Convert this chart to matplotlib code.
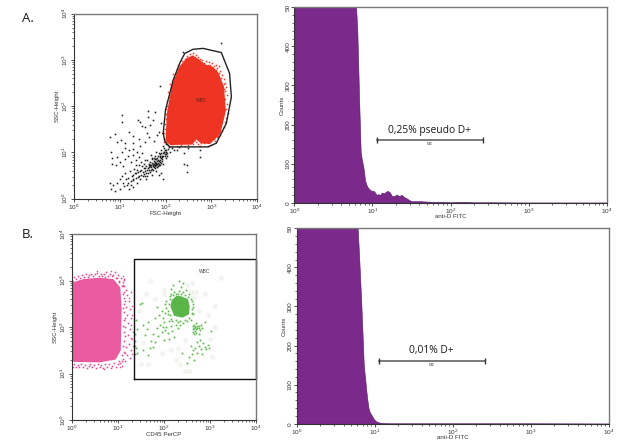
import numpy as np
import matplotlib
matplotlib.use("Agg")
import matplotlib.pyplot as plt
from matplotlib.ticker import LogLocator, NullFormatter, LogFormatterMathtext, MultipleLocator, FixedLocator, FixedFormatter

plt.rcParams['font.family'] = ['Liberation Sans', 'DejaVu Sans']
plt.rcParams['mathtext.default'] = 'regular'

W, H = 631, 442

# ---- all coordinates below are log10 of the channel value
wbc_gate = [(1.95,1.41),(2.0,1.92),(2.17,2.57),(2.32,2.95),(2.42,3.14),(2.6,3.23),(2.82,3.25),(3.22,3.16),
            (3.4,2.71),(3.44,2.2),(3.33,1.63),(3.11,1.2),(2.93,1.12),(2.09,1.12),(1.99,1.23)]
red_core = [(2.0,1.25),(2.03,1.85),(2.14,2.45),(2.3,2.85),(2.46,3.04),(2.6,3.1),(2.72,3.02),(2.88,2.9),
            (3.04,2.85),(3.16,2.72),(3.28,2.42),(3.32,1.9),(3.2,1.4),(2.97,1.18),(2.77,1.2),(2.68,1.28),(2.58,1.17),(2.1,1.16)]
red_speck = [(1.97,1.3),(1.96,1.42),(1.99,1.5),(1.98,1.62),(2.0,1.72),(2.01,1.83),(2.0,1.93),(2.04,2.0),(2.03,2.12),
 (2.07,2.2),(2.06,2.3),(2.11,2.38),(2.1,2.48),(2.14,2.55),(2.18,2.62),(2.16,2.7),(2.22,2.72),(2.25,2.8),(2.28,2.88),
 (2.33,2.9),(2.36,2.98),(2.42,3.03),(2.47,3.09),(2.53,3.12),(2.6,3.14),(2.66,3.1),(2.72,3.06),(2.76,3.02),(2.8,3.0),
 (2.78,2.92),(2.84,2.93),(2.88,2.98),(2.93,2.9),(2.95,2.96),(2.98,2.88),(3.02,2.93),(3.06,2.86),(3.1,2.9),(3.13,2.82),
 (3.17,2.86),(3.2,2.76),(3.16,2.72),(3.24,2.68),(3.22,2.6),(3.28,2.58),(3.3,2.5),(3.33,2.42),(3.3,2.32),(3.34,2.25),
 (3.31,2.15),(3.35,2.05),(3.33,1.95),(3.36,1.85),(3.32,1.75),(3.3,1.65),(3.27,1.55),(3.24,1.47),(3.2,1.38),(3.13,1.33),
 (3.08,1.25),(3.0,1.17),(2.92,1.15),(2.85,1.2),(2.78,1.2),(2.72,1.18),(2.7,1.27),(2.63,1.28),(2.6,1.18),(2.5,1.16),
 (2.42,1.14),(2.33,1.16),(2.25,1.14),(2.15,1.15),(2.05,1.17),(2.02,1.22),(1.97,1.22),(2.6,1.3),(2.66,1.22),(2.75,1.14),
 (3.1,2.78),(3.0,2.83),(2.86,2.87),(3.27,2.47),(3.28,2.38),(3.05,1.3),(3.15,1.36),(2.75,2.95),(2.82,2.88),(3.22,2.53)]
black_pts = [(0.79,1.34),(0.89,1.39),(1.06,1.81),(1.06,1.66),(1.40,1.70),(1.44,1.66),(1.62,1.90),(1.62,1.77),
 (1.77,1.88),(1.73,1.70),(1.66,1.59),(1.55,1.56),(1.48,1.57),(1.88,2.44),(3.22,3.37),(2.39,3.18),(1.91,1.63),
 (1.86,1.45),(1.02,1.27),(1.21,1.45),(1.29,1.35),(0.95,1.23),(1.11,1.2),(1.29,1.2),(0.8,1.0),(0.82,0.88),
 (0.95,0.9),(1.05,1.02),(1.12,1.1),(1.2,1.05),(1.3,1.08),(1.38,1.0),(1.45,1.13),(1.56,1.22),(1.65,1.33),
 (1.75,1.25),(1.82,1.38),(1.6,1.42),(1.42,1.3),(0.83,0.75),(0.92,0.72),(1.0,0.8),(1.08,0.7),(1.12,0.85),
 (1.18,0.92),(1.25,0.8),(1.3,0.95),(1.35,0.83),(1.42,0.9),(1.48,0.98),(0.78,0.33),(0.8,0.2),(0.85,0.3),
 (0.9,0.17),(0.95,0.33),(1.0,0.2),(1.0,0.42),(1.05,0.5),(1.08,0.35),(1.12,0.55),(1.15,0.3),(1.18,0.45),
 (1.2,0.22),(1.22,0.6),(1.25,0.38),(1.28,0.52),(1.3,0.25),(1.32,0.65),(1.35,0.45),(1.38,0.33),(1.4,0.58),
 (1.42,0.72),(1.45,0.42),(1.47,0.62),(1.5,0.5),(1.52,0.75),(1.55,0.6),(1.57,0.42),(1.58,0.7),(1.6,0.83),
 (1.62,0.55),(1.63,0.72),(1.65,0.62),(1.66,0.8),(1.68,0.68),(1.7,0.52),(1.7,0.88),(1.72,0.75),(1.73,0.63),
 (1.75,0.82),(1.76,0.7),(1.78,0.92),(1.79,0.6),(1.8,0.78),(1.82,0.88),(1.83,0.7),(1.85,0.98),(1.86,0.82),
 (1.88,0.72),(1.89,0.92),(1.9,1.05),(1.92,0.85),(1.94,0.98),(1.95,0.75),(1.96,1.1),(1.98,0.92),(2.0,1.02),
 (2.02,1.18),(2.04,0.98),(2.06,1.08),(2.1,1.02),(2.14,1.1),(2.18,1.05),(2.25,1.05),(2.3,1.12),(1.95,0.43),
 (1.9,0.55),(1.85,0.52),(1.55,0.48),(1.6,0.5),(1.64,0.68),(1.67,0.58),(1.69,0.73),(1.71,0.85),(1.74,0.68),
 (1.77,0.73),(1.78,0.85),(1.81,0.68),(1.84,0.78),(1.87,0.9),(1.91,0.78),(1.93,0.9),(1.97,1.0),(2.0,0.88),
 (1.66,0.72),(1.7,0.65),(1.72,0.7),(1.75,0.76),(1.79,0.76),(1.82,0.82),(1.86,0.76),(1.6,0.62),(1.56,0.66),
 (1.5,0.58),(1.46,0.52),(1.4,0.46),(1.35,0.55),(1.3,0.42),(1.26,0.48),(2.4,0.75),(2.48,0.72),(2.46,0.57),
 (2.75,0.9),(2.75,1.05),(2.5,1.1),(2.4,0.98),
 (1.62,0.66),(1.64,0.76),(1.67,0.7),(1.69,0.62),(1.71,0.78),(1.73,0.72),(1.74,0.88),(1.76,0.78),(1.77,0.66),(1.78,0.8),
 (1.8,0.86),(1.8,0.72),(1.82,0.76),(1.83,0.92),(1.84,0.84),(1.85,0.72),(1.87,0.84),(1.88,0.96),(1.89,0.8),(1.9,0.88),
 (1.91,0.98),(1.92,0.92),(1.93,0.82),(1.95,0.92),(1.96,1.02),(1.98,0.96),(1.99,1.06),(2.01,0.96),(2.02,1.06),(2.03,0.92),
 (1.58,0.56),(1.54,0.54),(1.52,0.66),(1.48,0.7),(1.44,0.6),(1.42,0.5),(1.38,0.62),(1.33,0.55),(1.28,0.4),(1.24,0.3),
 (1.18,0.35),(1.14,0.42),(1.1,0.28),(1.36,0.72),(1.46,0.8),(1.56,0.84),(1.68,0.94),(1.8,1.02),(1.94,1.14),(2.08,1.12)]

pink_core = [(0,1.25),(0.6,1.24),(0.95,1.3),(1.06,1.5),(1.08,2.4),(1.05,2.85),(0.9,3.03),(0.6,3.06),(0.25,3.03),(0,2.95)]
pink_speck = [(0.02,3.0),(0.05,3.07),(0.09,3.03),(0.13,3.1),(0.17,3.06),(0.21,3.12),(0.25,3.07),(0.3,3.13),(0.34,3.08),
 (0.38,3.11),(0.42,3.15),(0.46,3.09),(0.5,3.13),(0.54,3.17),(0.58,3.1),(0.62,3.15),(0.66,3.09),(0.7,3.13),(0.74,3.18),
 (0.78,3.1),(0.82,3.14),(0.86,3.09),(0.9,3.12),(0.94,3.19),(0.97,3.06),(1.0,3.11),(1.03,3.0),(1.06,3.05),(1.1,2.96),
 (1.13,3.03),(1.09,2.88),(1.14,2.88),(1.18,2.8),(1.12,2.76),(1.2,2.68),(1.14,2.62),(1.24,2.55),(1.12,2.5),(1.18,2.44),
 (1.26,2.38),(1.13,2.33),(1.2,2.26),(1.28,2.2),(1.12,2.14),(1.22,2.08),(1.16,2.0),(1.27,1.95),(1.12,1.9),(1.21,1.82),
 (1.29,1.76),(1.14,1.7),(1.24,1.64),(1.18,1.56),(1.28,1.5),(1.12,1.46),(1.2,1.4),(1.26,1.34),(1.1,1.32),(1.15,1.26),
 (1.05,1.22),(1.09,1.17),(1.0,1.2),(0.96,1.14),(0.92,1.22),(0.88,1.17),(0.84,1.12),(0.8,1.2),(0.76,1.15),(0.72,1.2),
 (0.68,1.11),(0.64,1.18),(0.6,1.14),(0.56,1.21),(0.52,1.12),(0.48,1.18),(0.44,1.14),(0.4,1.21),(0.36,1.16),(0.32,1.11),
 (0.28,1.19),(0.24,1.15),(0.2,1.21),(0.16,1.13),(0.12,1.19),(0.08,1.15),(0.04,1.21),(0.02,1.13),
 (1.1,2.7),(1.16,2.56),(1.1,2.4),(1.15,2.2),(1.1,2.02),(1.16,1.8),(1.1,1.6),(1.16,1.44),(1.08,1.26),(1.02,1.26),
 (1.08,1.4),(1.1,2.9),(1.02,2.97),(0.95,3.05),(0.15,3.0),(0.72,3.07)]
pink_loose = [(1.3,1.42),(1.32,1.6),(1.3,1.75),(1.33,1.9),(1.29,2.05),(1.31,2.25),(1.3,2.45),(1.24,2.62),(1.28,2.75),
              (1.12,3.02),(1.1,3.1),(0.85,3.2),(0.55,3.2),(1.05,1.14),(0.7,1.1)]

wbc_box = [(1.355,0.88),(4.0,0.88),(4.0,3.46),(1.355,3.46),(1.355,0.88)]
green_core = [(2.14,2.44),(2.17,2.58),(2.27,2.67),(2.38,2.66),(2.52,2.6),(2.56,2.44),(2.54,2.27),(2.4,2.2),(2.22,2.24)]
green_pts = [(2.12,2.6),(2.15,2.7),(2.2,2.68),(2.27,2.72),(2.32,2.78),(2.38,2.72),(2.45,2.68),(2.52,2.65),(2.58,2.6),
 (2.62,2.5),(2.6,2.38),(2.62,2.28),(2.55,2.2),(2.45,2.15),(2.35,2.13),(2.25,2.15),(2.15,2.18),(2.08,2.28),(2.05,2.4),
 (2.02,2.5),(1.95,2.35),(1.9,2.25),(1.85,2.42),(1.8,2.2),(2.1,2.12),(2.0,2.1),(1.92,2.05),(2.05,2.0),(2.15,2.03),
 (1.85,1.98),(1.95,1.9),(2.08,1.88),(2.18,1.92),(2.22,1.78),(2.1,1.75),(2.0,1.72),(1.88,1.8),(1.75,1.85),(1.65,2.1),
 (1.62,1.95),(1.72,1.7),(1.58,1.82),(1.55,2.05),(1.42,1.95),(1.4,2.15),(1.48,2.5),(1.52,2.52),(1.36,1.6),(1.4,1.55),
 (1.38,1.7),(1.36,1.85),(1.55,1.5),(1.75,1.56),(1.8,1.68),(1.66,1.4),(2.38,2.85),(2.42,2.95),(2.33,3.0),
 (2.62,2.02),(2.66,2.05),(2.7,2.08),(2.75,2.03),(2.8,2.05),(2.62,1.95),(2.68,1.92),(2.72,1.98),(2.78,1.94),(2.7,1.88),
 (2.75,1.85),(2.66,1.84),(2.82,1.98),(2.9,2.1),(3.03,1.92),
 (2.55,1.35),(2.6,1.42),(2.62,1.5),(2.68,1.55),(2.72,1.45),(2.75,1.6),(2.8,1.52),(2.85,1.65),(2.9,1.58),(2.95,1.62),
 (2.72,1.68),(2.82,1.42),(2.65,1.28),(2.5,1.22),(2.4,1.45),(2.92,1.52),(2.78,1.72),(2.58,1.6),(2.98,1.55),
 (2.2,2.9),(2.15,2.82),(2.48,2.8),(1.7,1.55),(1.42,1.45),(1.36,1.42),
 (2.1,2.5),(2.08,2.35),(2.12,2.25),(2.18,2.12),(2.3,2.1),(2.42,2.08),(2.5,2.12),(2.58,2.16),(2.6,2.3),(2.64,2.42),
 (2.6,2.55),(2.55,2.7),(2.42,2.76),(2.3,2.7),(2.22,2.76),(2.12,2.66),(2.05,2.55),(2.02,2.3),(1.98,2.2),(2.25,2.05),
 (2.35,2.05),(2.3,1.98),(2.02,1.93),(1.97,2.0),(2.66,1.98),(2.72,2.03),(2.64,1.9),(2.76,1.98),(2.7,1.95),(2.68,2.0)]
faint_pts = [(1.7,3.0),(3.23,3.06),(2.9,2.7),(3.1,2.45),(2.6,2.95),(2.7,2.75),(2.0,2.8),(1.8,2.6),(2.75,2.35),(2.95,2.25),
 (3.1,2.0),(2.25,1.3),(2.35,1.2),(2.15,1.5),(1.95,1.45),(1.5,1.2),(1.65,1.2),(2.45,1.05),(2.55,1.05),(3.05,1.35),
 (3.0,1.75),(2.45,1.72),(2.3,1.55),(1.6,2.7),(2.5,2.9),(2.6,2.75),(2.65,2.65),(2.0,2.72),(1.55,1.65),(1.45,2.35)]

# histogram: bin position (log10) and counts; counts reach past the 500 ceiling of the plot
hist_a_x = [0,0.78,0.79,0.807,0.83,0.85,0.865,0.884,0.895,0.905,0.925,0.948,0.97,0.99,1.01,1.03,1.054,1.08,1.1,1.118,1.15,1.18,
            1.2,1.225,1.247,1.28,1.31,1.34,1.375,1.41,1.44,1.47,1.5,1.6,1.69,1.8,1.9,2.0,2.1,2.2,2.3,2.5,3.0,4.0]
hist_a_y = [520,520,505,440,265,130,110,92,75,58,45,37,33,30,31,27,20,22,19,26,24,29,30,26,18,17,21,17,20,14,11,7,4,4,3,2,2,1,2,2,1,1,0.5,0.5]
hist_b_x = [0,0.77,0.78,0.8,0.83,0.85,0.86,0.88,0.9,0.92,0.94,0.96,0.98,1.0,1.03,1.06,1.1,1.2,1.5,2.0,3.0,4.0]
hist_b_y = [520,520,505,430,300,200,150,110,70,40,28,22,15,9,5,3,1.5,1,1,1,1,0.5]

M2_a = [1.054, 2.41]
M2_b = [1.06, 2.415]
M2_count = 160

y_ticks = [0, 100, 200, 300, 400, 500]
y_labels = ['0', '100', '200', '300', '400', '50']


def axes_px(x0, x1, y0, y1):
    return fig.add_axes([x0 / W, 1 - y1 / H, (x1 - x0) / W, (y1 - y0) / H])


def style(ax, xlab, ylab):
    ax.set_xscale('log')
    ax.set_xlim(1, 1e4)
    ax.xaxis.set_major_locator(LogLocator(10, numticks=6))
    ax.xaxis.set_minor_locator(LogLocator(10, subs=np.arange(2, 10), numticks=6))
    ax.xaxis.set_major_formatter(LogFormatterMathtext())
    ax.xaxis.set_minor_formatter(NullFormatter())
    ax.tick_params(which='major', length=2.0, width=0.6, labelsize=4.6, pad=0.8, colors='#333333')
    ax.tick_params(which='minor', length=1.2, width=0.5, colors='#333333')
    for lab in ax.get_yticklabels():
        lab.set_rotation(90)
        lab.set_va('center')
    ax.set_xlabel(xlab, fontsize=4.4, labelpad=-1.0, color='#333333')
    ax.set_ylabel(ylab, fontsize=4.4, labelpad=0.6, color='#333333')
    for s in ('top', 'right'):
        ax.spines[s].set_color('#777777')
        ax.spines[s].set_linewidth(1.0)
    for s in ('left', 'bottom'):
        ax.spines[s].set_color('#333333')
        ax.spines[s].set_linewidth(0.8)


def log_style(ax):
    ax.set_yscale('log')
    ax.set_ylim(1, 1e4)
    ax.yaxis.set_major_locator(LogLocator(10, numticks=6))
    ax.yaxis.set_minor_locator(LogLocator(10, subs=np.arange(2, 10), numticks=6))
    ax.yaxis.set_major_formatter(LogFormatterMathtext())
    ax.yaxis.set_minor_formatter(NullFormatter())


def lin(pts):
    a = 10 ** np.array(pts, dtype=float)
    return a[:, 0], a[:, 1]


def closed(pts):
    return lin(list(pts) + [pts[0]])


fig = plt.figure(figsize=(W / 100, H / 100), dpi=100, facecolor='white')

# ---- panel A, scatter
ax = axes_px(74, 257, 13.7, 198.7)
log_style(ax)
x, y = lin(black_pts)
ax.plot(x, y, ls='', marker='s', ms=1.15, mew=0, color='#1c1c1c')
x, y = lin(red_speck)
ax.plot(x, y, ls='', marker='s', ms=1.1, mew=0, color='#ee3524')
ax.fill(*lin(red_core), color='#ee3524', lw=0)
x, y = closed(wbc_gate)
ax.plot(x, y, color='#222222', lw=1.0)
ax.text(10 ** 2.78, 10 ** 2.13, 'WBC', fontsize=3.5, ha='center', va='center', color='#6b1f14')
style(ax, 'FSC-Height', 'SSC-Height')

# ---- panel A, histogram
ax = axes_px(294.3, 606.7, 7.3, 202.7)
ax.fill_between(10 ** np.array(hist_a_x), hist_a_y, 0, color='#7b2a8c', lw=0.4, ec='#54196a')
ax.set_ylim(0, 500)
ax.yaxis.set_major_locator(FixedLocator(y_ticks))
ax.yaxis.set_major_formatter(FixedFormatter(y_labels))
ax.yaxis.set_minor_locator(MultipleLocator(20))
style(ax, 'anti-D FITC', 'Counts')
ax.plot(10 ** np.array(M2_a), [M2_count] * 2, color='#555555', lw=1.1)
ax.plot(10 ** np.array(M2_a), [M2_count] * 2, ls='', marker='|', ms=5, mew=1.0, color='#333333')
ax.text(10 ** 1.73, 150, 'M2', fontsize=3, ha='center', va='center', color='#444444')
ax.text(10 ** 1.73, 185, '0,25% pseudo D+', fontsize=7.4, ha='center', va='center', family='Open Sans', color='#1a1a1a')

# ---- panel B, scatter
ax = axes_px(72, 256, 234, 420)
log_style(ax)
x, y = lin(faint_pts)
ax.plot(x, y, ls='', marker='o', ms=3.5, mew=0, color='#f2f4ef')
x, y = lin(pink_speck)
ax.plot(x, y, ls='', marker='s', ms=1.15, mew=0, color='#e0468f')
x, y = lin(pink_loose)
ax.plot(x, y, ls='', marker='s', ms=1.0, mew=0, color='#e0468f')
ax.fill(*lin(pink_core), color='#ea5a9e', lw=0)
x, y = lin(green_pts)
ax.plot(x, y, ls='', marker='s', ms=1.25, mew=0, color='#5ab648')
ax.fill(*lin(green_core), color='#5ab648', lw=0)
x, y = lin(wbc_box)
ax.plot(x, y, color='#111111', lw=1.0, clip_on=False)
ax.text(10 ** 2.89, 10 ** 3.19, 'WBC', fontsize=3.5, ha='center', va='center', color='#444444')
style(ax, 'CD45 PerCP', 'SSC-Height')

# ---- panel B, histogram
ax = axes_px(296.7, 608.7, 228.3, 423.7)
ax.fill_between(10 ** np.array(hist_b_x), hist_b_y, 0, color='#7b2a8c', lw=0.4, ec='#54196a')
ax.set_ylim(0, 500)
ax.yaxis.set_major_locator(FixedLocator(y_ticks))
ax.yaxis.set_major_formatter(FixedFormatter(y_labels))
ax.yaxis.set_minor_locator(MultipleLocator(20))
style(ax, 'anti-D FITC', 'Counts')
ax.plot(10 ** np.array(M2_b), [M2_count] * 2, color='#555555', lw=1.1)
ax.plot(10 ** np.array(M2_b), [M2_count] * 2, ls='', marker='|', ms=5, mew=1.0, color='#333333')
ax.text(10 ** 1.73, 150, 'M2', fontsize=3, ha='center', va='center', color='#444444')
ax.text(10 ** 1.73, 187, '0,01% D+', fontsize=7.4, ha='center', va='center', family='Open Sans', color='#1a1a1a')

fig.text(22 / W, 1 - 19 / H, 'A.', fontsize=9.5, family='Open Sans', va='center', color='#1a1a1a')
fig.text(22 / W, 1 - 234 / H, 'B.', fontsize=9.5, family='Open Sans', va='center', color='#1a1a1a')

fig.savefig('out.png', dpi=100)
